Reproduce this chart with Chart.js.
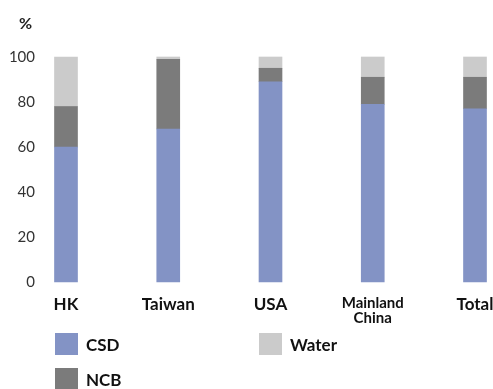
<!DOCTYPE html>
<html>
<head>
<meta charset="utf-8">
<script src="https://cdn.jsdelivr.net/npm/chart.js@4"></script>
<style>
    html, body { margin: 0; padding: 0; background: #fff; }
    #wrap { position: relative; width: 493px; height: 389px; overflow: hidden; font-family: Lato, "Open Sans", sans-serif; }
    #chartBox { position: absolute; left: 0; top: 0; width: 493px; height: 340px; }
    #unit { position: absolute; left: 19px; top: 13px; font-weight: bold; font-size: 16px; color: #222; }
    #legend { position: absolute; left: 55px; top: 333px; display: grid; grid-template-columns: 204px 200px; row-gap: 13px; }
    .item { display: flex; align-items: center; height: 22px; font-weight: bold; font-size: 17px; color: #111; }
    .box { width: 23px; height: 22px; margin-right: 8px; }
</style>
</head>
<body>
<div id="wrap">
    <div id="chartBox"><canvas id="shareChart"></canvas></div>
    <div id="unit">%</div>
    <div id="legend"></div>
</div>
<script>
const regions = ['HK', 'Taiwan', 'USA', ['Mainland', 'China'], 'Total'];
const csd = [60, 68, 89, 79, 77];
const ncb = [18, 31, 6, 12, 14];
const water = [22, 1, 5, 9, 9];
const yTicks = [0, 20, 40, 60, 80, 100];
const legendOrder = ['CSD', 'Water', 'NCB'];

document.addEventListener('DOMContentLoaded', function() {
    initShareChart();
});

function initShareChart() {
    const ctx = document.getElementById('shareChart');
    if (!ctx) return;

    const chart = new Chart(ctx, {
        type: 'bar',
        data: {
            labels: regions,
            datasets: [
                { label: 'CSD', data: csd, backgroundColor: '#8393c5' },
                { label: 'NCB', data: ncb, backgroundColor: '#7b7b7b' },
                { label: 'Water', data: water, backgroundColor: '#cbcbcb' }
            ]
        },
        options: {
            responsive: true,
            maintainAspectRatio: false,
            animation: false,
            datasets: {
                bar: {
                    barThickness: 23,
                    borderWidth: 0,
                    clip: false
                }
            },
            layout: {
                padding: { left: 9, right: 18, top: 57, bottom: 0 }
            },
            plugins: {
                legend: { display: false },
                tooltip: { enabled: false }
            },
            scales: {
                x: {
                    stacked: true,
                    offset: false,
                    afterFit: function(scale) {
                        // let the edge bars sit on the chart area edges
                        scale.paddingLeft = 0;
                        scale.paddingRight = 0;
                    },
                    grid: { display: false, drawTicks: false },
                    border: { display: false },
                    ticks: {
                        padding: 14,
                        maxRotation: 0,
                        autoSkip: false,
                        color: '#111',
                        font: function(c) {
                            const small = Array.isArray(regions[c.index]);
                            return { family: 'Lato', weight: 'bold', size: small ? 15 : 17, lineHeight: 1 };
                        }
                    }
                },
                y: {
                    stacked: true,
                    min: 0,
                    max: 100,
                    afterBuildTicks: function(scale) {
                        scale.ticks = yTicks.map(function(v) { return { value: v }; });
                    },
                    afterFit: function(scale) {
                        scale.width = 57;
                    },
                    grid: { display: false, drawTicks: false },
                    border: { display: false },
                    ticks: {
                        padding: 31,
                        color: '#333',
                        font: { family: 'Lato', size: 15 }
                    }
                }
            }
        }
    });

    const legend = document.getElementById('legend');
    legendOrder.forEach(function(name) {
        const ds = chart.data.datasets.find(function(d) { return d.label === name; });
        const item = document.createElement('div');
        item.className = 'item';
        const box = document.createElement('span');
        box.className = 'box';
        box.style.background = ds.backgroundColor;
        item.appendChild(box);
        item.appendChild(document.createTextNode(ds.label));
        legend.appendChild(item);
    });
}
</script>
</body>
</html>
